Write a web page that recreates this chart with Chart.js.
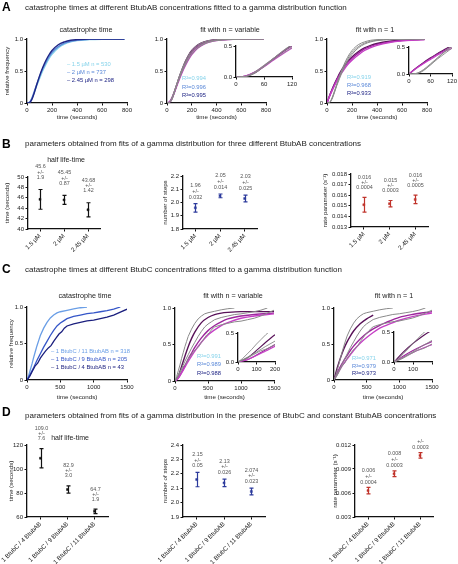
<!DOCTYPE html>
<html lang="en">
<head>
<meta charset="UTF-8" />
<title>Catastrophe times fitted to a gamma distribution</title>
<script src="https://cdn.jsdelivr.net/npm/chart.js"></script>
<style>
    body { margin: 0; width: 458px; height: 564px; overflow: hidden; background: #fff; position: relative;
           font-family: "Liberation Sans", Arial, sans-serif; color: #222; }
    canvas { position: absolute; }
    .t { position: absolute; white-space: nowrap; line-height: 1; will-change: transform; }
    .letter { font-weight: bold; font-size: 12px; color: #000; }
</style>
</head>
<body>
<script>
// ---------- panel A: BtubAB concentrations ----------
const concLabels = ['1.5 µM', '2 µM', '2.45 µM'];
const nA = [530, 737, 298];
const timeA = [0, 20, 40, 60, 80, 100, 125, 150, 175, 200, 250, 300, 350, 400, 500, 600, 700, 780];
const freqA15  = [0, 0.01, 0.07, 0.17, 0.28, 0.38, 0.50, 0.60, 0.69, 0.76, 0.86, 0.92, 0.955, 0.975, 0.99, 0.997, 1.0, 1.0];
const freqA2   = [0, 0.01, 0.08, 0.19, 0.30, 0.41, 0.53, 0.63, 0.72, 0.79, 0.88, 0.935, 0.965, 0.98, 0.995, 1.0, 1.0, 1.0];
const freqA245 = [0, 0.005, 0.06, 0.17, 0.30, 0.42, 0.55, 0.66, 0.75, 0.82, 0.91, 0.955, 0.98, 0.99, 1.0, 1.0, 1.0, 1.0];
const fitVarA15  = [0, 0.015, 0.075, 0.165, 0.27, 0.37, 0.49, 0.59, 0.68, 0.755, 0.86, 0.92, 0.955, 0.975, 0.992, 0.998, 1.0, 1.0];
const fitVarA2   = [0, 0.015, 0.08, 0.18, 0.29, 0.40, 0.52, 0.63, 0.72, 0.79, 0.885, 0.94, 0.97, 0.985, 0.996, 0.999, 1.0, 1.0];
const fitVarA245 = [0, 0.01, 0.065, 0.17, 0.29, 0.41, 0.54, 0.655, 0.75, 0.82, 0.91, 0.955, 0.978, 0.99, 0.998, 1.0, 1.0, 1.0];
const fitOneA15  = [0, 0.10, 0.19, 0.27, 0.35, 0.42, 0.49, 0.56, 0.62, 0.67, 0.75, 0.82, 0.865, 0.90, 0.945, 0.97, 0.982, 0.99];
const fitOneA2   = [0, 0.11, 0.20, 0.29, 0.37, 0.44, 0.52, 0.59, 0.65, 0.70, 0.78, 0.845, 0.885, 0.915, 0.955, 0.975, 0.987, 0.993];
const fitOneA245 = [0, 0.11, 0.21, 0.30, 0.38, 0.46, 0.54, 0.61, 0.67, 0.72, 0.80, 0.86, 0.90, 0.93, 0.965, 0.982, 0.99, 0.995];
const r2VarA = ['0.994', '0.996', '0.995'];
const r2OneA = ['0.919', '0.968', '0.933'];

// ---------- panel B: fit parameters vs BtubAB ----------
const halfLifeB = [45.7, 45.6, 43.7];
const halfLifeBErr = [1.9, 0.85, 1.35];
const halfLifeBText = ['45.6', '45.45', '43.68'];
const halfLifeBErrText = ['1.9', '0.87', '1.42'];
const stepsB = [1.96, 2.05, 2.03];
const stepsBErr = [0.032, 0.014, 0.025];
const stepsBText = ['1.96', '2.05', '2.03'];
const stepsBErrText = ['0.032', '0.014', '0.025'];
const rateB = [0.0151, 0.0152, 0.0156];
const rateBErr = [0.0007, 0.0003, 0.0004];
const rateBText = ['0.016', '0.015', '0.016'];
const rateBErrText = ['0.0004', '0.0003', '0.0005'];

// ---------- panel C: BtubC / BtubAB ratios ----------
const ratioLabels = ['1 BtubC / 4 BtubAB', '1 BtubC / 9 BtubAB', '1 BtubC / 11 BtubAB'];
const legendC = ['1 BtubC / 11 BtubAB n = 318', '1 BtubC / 9 BtubAB n = 205', '1 BtubC / 4 BtubAB n = 43'];
const timeC11 = [0, 25, 50, 75, 100, 125, 150, 175, 200, 250, 300, 350, 400, 450, 500, 600, 700, 800, 900];
const freqC11 = [0, 0.06, 0.14, 0.22, 0.31, 0.39, 0.47, 0.54, 0.61, 0.71, 0.79, 0.85, 0.89, 0.92, 0.935, 0.955, 0.975, 0.99, 1.0];
const timeC9 = [0, 50, 100, 150, 200, 250, 300, 350, 400, 450, 500, 550, 600, 700, 800, 900, 1000, 1100, 1200, 1300, 1400];
const freqC9 = [0, 0.08, 0.17, 0.27, 0.36, 0.45, 0.53, 0.61, 0.68, 0.74, 0.78, 0.81, 0.84, 0.87, 0.89, 0.91, 0.92, 0.935, 0.95, 0.97, 1.0];
const timeC4 = [0, 40, 80, 120, 160, 200, 240, 280, 320, 360, 400, 440, 480, 520, 560, 600, 700, 800, 900, 1000, 1100, 1200, 1300, 1400, 1500];
const freqC4 = [0, 0.05, 0.12, 0.19, 0.23, 0.30, 0.35, 0.40, 0.44, 0.47, 0.53, 0.58, 0.63, 0.66, 0.71, 0.74, 0.77, 0.79, 0.81, 0.82, 0.84, 0.86, 0.89, 0.93, 0.97];
const timeFitC = [0, 50, 100, 150, 200, 250, 300, 400, 500, 600, 700, 800, 1000, 1200, 1500];
const fitVarC11 = [0, 0.07, 0.20, 0.34, 0.47, 0.58, 0.67, 0.80, 0.87, 0.91, 0.93, 0.94, 0.95, 0.95, 0.95];
const fitVarC9  = [0, 0.04, 0.12, 0.21, 0.30, 0.38, 0.46, 0.59, 0.69, 0.76, 0.81, 0.85, 0.89, 0.91, 0.93];
const fitVarC4  = [0, 0.04, 0.11, 0.19, 0.27, 0.34, 0.41, 0.53, 0.63, 0.70, 0.76, 0.80, 0.86, 0.89, 0.92];
const fitOneC11 = [0, 0.17, 0.31, 0.43, 0.53, 0.61, 0.68, 0.78, 0.85, 0.90, 0.93, 0.95, 0.975, 0.99, 1.0];
const fitOneC9  = [0, 0.10, 0.19, 0.27, 0.34, 0.41, 0.47, 0.57, 0.65, 0.71, 0.76, 0.80, 0.87, 0.91, 0.95];
const fitOneC4  = [0, 0.08, 0.16, 0.23, 0.29, 0.35, 0.41, 0.51, 0.59, 0.66, 0.72, 0.76, 0.83, 0.88, 0.93];
const r2VarC = ['0.991', '0.989', '0.988'];
const r2OneC = ['0.971', '0.979', '0.973'];

// ---------- panel D: fit parameters vs BtubC ----------
const halfLifeD = [109.0, 82.9, 64.7];
const halfLifeDErr = [8.0, 3.0, 1.9];
const halfLifeDText = ['109.0', '82.9', '64.7'];
const halfLifeDErrText = ['7.6', '3.0', '1.9'];
const stepsD = [2.16, 2.137, 2.077];
const stepsDErr = [0.05, 0.026, 0.023];
const stepsDText = ['2.15', '2.13', '2.074'];
const stepsDErrText = ['0.05', '0.026', '0.023'];
const rateD = [0.0063, 0.0084, 0.0107];
const rateDErr = [0.0004, 0.00036, 0.00035];
const rateDText = ['0.006', '0.008', '0.011'];
const rateDErrText = ['0.0004', '0.0003', '0.0003'];

// colours
const cyan = '#86d3ea', blue = '#5a88d8', navy = '#1f2585';
const cBlue1 = '#6a9ee6', cBlue2 = '#3556c8', cBlue3 = '#1b1f7e';
const grey = '#8a8a8a';
const fitCols = ['#c63fc6', '#9c279c', '#581258'];

const FONT = '"Liberation Sans", Arial, sans-serif';
const TITLE_SIZE = 6.2;
Chart.defaults.font.family = FONT;
Chart.defaults.color = '#222';
Chart.defaults.animation = false;
Chart.defaults.plugins.legend.display = false;
Chart.defaults.plugins.tooltip.enabled = false;

// error bars + value labels above them
Chart.register({
    id: 'errorBars',
    afterDatasetsDraw(chart, args, o) {
        if (!o || !o.means) return;
        const ctx = chart.ctx, xs = chart.scales.x, ys = chart.scales.y;
        ctx.save();
        o.means.forEach((m, i) => {
            const x = Math.round(xs.getPixelForValue(i)) + 0.5;
            const yt = ys.getPixelForValue(m + o.errs[i]);
            const yb = ys.getPixelForValue(m - o.errs[i]);
            ctx.strokeStyle = o.color;
            ctx.lineWidth = 1.2;
            ctx.beginPath();
            ctx.moveTo(x, yt); ctx.lineTo(x, yb);
            ctx.moveTo(x - 2, yt); ctx.lineTo(x + 2, yt);
            ctx.moveTo(x - 2, yb); ctx.lineTo(x + 2, yb);
            ctx.stroke();
            ctx.fillStyle = '#555';
            ctx.font = '5.4px ' + FONT;
            ctx.textAlign = 'center';
            ctx.textBaseline = 'middle';
            const lines = [o.text[i], '+/-', o.errText[i]];
            lines.forEach((s, k) => ctx.fillText(s, x, yt - o.gap - (2 - k) * o.lineGap));
        });
        ctx.restore();
    }
});

function txt(s, x, y, size, color, center, extra) {
    const d = document.createElement('div');
    d.className = 't' + (extra ? ' ' + extra : '');
    d.textContent = s;
    d.style.left = x + 'px';
    d.style.top = y + 'px';
    d.style.fontSize = size + 'px';
    if (color) d.style.color = color;
    d.style.transform = center ? 'translate(-50%,-50%)' : 'translate(0,-50%)';
    document.body.appendChild(d);
}

// box = plot area in page px, m = space kept round it for axes, yTitleX = page x of the y title centre
function makeChart(box, m, config, yTitleX) {
    const c = document.createElement('canvas');
    const left = Math.round(box.l - m.l), top = Math.round(box.t - m.t);
    const w = Math.round(box.r + m.r) - left, h = Math.round(box.b + m.b) - top;
    c.width = w; c.height = h;
    c.style.left = left + 'px'; c.style.top = top + 'px';
    document.body.appendChild(c);
    const o = config.options;
    o.responsive = false;
    o.layout = { autoPadding: false, padding: { left: 0, top: m.t, right: m.r, bottom: 0 } };
    o.scales.x.afterFit = s => { s.height = m.b; s.paddingLeft = 0; s.paddingRight = 0; };
    o.scales.y.afterFit = s => { s.width = m.l; s.paddingTop = 0; s.paddingBottom = 0; };
    if (yTitleX != null) {
        o.scales.y.title.padding = { top: yTitleX - left - TITLE_SIZE * 0.6, bottom: 0 };
    }
    return new Chart(c, config);
}

function linScale(min, max, step, fmt, title) {
    return {
        type: 'linear', min: min, max: max,
        ticks: { stepSize: step, autoSkip: false, maxRotation: 0, padding: 1.5, font: { size: 6 }, color: '#222', callback: fmt },
        grid: { drawOnChartArea: false, tickLength: 2.5, tickColor: '#111', tickWidth: 1 },
        border: { color: '#111', width: 1.3 },
        title: { display: !!title, text: title || '', font: { size: TITLE_SIZE }, color: '#222', padding: 0 }
    };
}

function catScale(labels) {
    return {
        type: 'category', labels: labels, offset: true,
        ticks: { autoSkip: false, minRotation: 45, maxRotation: 45, padding: 1, font: { size: 6.2 }, color: '#222' },
        grid: { offset: false, drawOnChartArea: false, tickLength: 2.5, tickColor: '#111' },
        border: { color: '#111', width: 1.3 }
    };
}

function curve(ts, fs, color, width, straight) {
    return {
        data: ts.map((t, i) => ({ x: t, y: fs[i] })),
        borderColor: color, borderWidth: width || 1.2, pointRadius: 0, fill: false,
        tension: 0, cubicInterpolationMode: straight ? 'default' : 'monotone'
    };
}

const fracFmt = v => (v === 0 ? '0' : v.toFixed(1));
const fracFmt0 = v => v.toFixed(1);
const intFmt = v => String(v);

function curveChart(box, m, datasets, xMax, xStep, yTitle, xTitle, yFmt, yStep, yMax, xFmt, yTitleX) {
    return makeChart(box, m, {
        type: 'line',
        data: { datasets: datasets },
        options: {
            scales: {
                x: linScale(0, xMax, xStep, xFmt || intFmt, xTitle),
                y: linScale(0, yMax || 1, yStep || 0.5, yFmt || fracFmt, yTitle)
            }
        }
    }, yTitleX);
}

function errChart(box, m, labels, means, errs, color, yMin, yMax, step, fmt, yTitle, yTitleX, text, errText, gap, lineGap) {
    return makeChart(box, m, {
        type: 'line',
        data: {
            labels: labels,
            datasets: [{ data: means, showLine: false, pointStyle: 'rect', pointRadius: 1.4,
                         backgroundColor: color, borderColor: color, borderWidth: 0.5 }]
        },
        options: {
            scales: { x: catScale(labels), y: linScale(yMin, yMax, step, fmt, yTitle) },
            plugins: { errorBars: { means: means, errs: errs, color: color, text: text, errText: errText, gap: gap, lineGap: lineGap } }
        }
    }, yTitleX);
}

// ================= A =================
txt('A', 2, 7, 12, '#000', false, 'letter');
txt('catastrophe times at different BtubAB concentrations fitted to a gamma distribution function', 25, 8, 8);
txt('catastrophe time', 86, 30, 7.2, null, true);
txt('fit with n = variable', 230, 30, 7.2, null, true);
txt('fit with n = 1', 375, 30, 7.2, null, true);

curveChart({ l: 27, t: 39, r: 127, b: 103 }, { l: 24, t: 6, r: 10, b: 18 }, [
    curve(timeA, freqA245, navy, 1.4),
    curve(timeA, freqA2, blue, 1.4),
    curve(timeA, freqA15, cyan, 1.4)
], 800, 200, 'relative frequency', 'time (seconds)', null, null, null, null, 7);

curveChart({ l: 167, t: 39, r: 266, b: 103 }, { l: 17, t: 6, r: 10, b: 18 }, [
    curve(timeA, freqA15, grey, 1), curve(timeA, freqA2, grey, 1), curve(timeA, freqA245, grey, 1),
    curve(timeA, fitVarA15, fitCols[0], 1.4), curve(timeA, fitVarA2, fitCols[1], 1.4), curve(timeA, fitVarA245, fitCols[2], 1.4)
], 800, 200, null, 'time (seconds)');
curveChart({ l: 236, t: 46, r: 292, b: 77 }, { l: 12, t: 4, r: 6, b: 10 }, [
    curve(timeA, freqA15, grey, 0.9), curve(timeA, freqA2, grey, 0.9), curve(timeA, freqA245, grey, 0.9),
    curve(timeA, fitVarA15, fitCols[0], 1.1), curve(timeA, fitVarA2, fitCols[1], 1.1), curve(timeA, fitVarA245, fitCols[2], 1.1)
], 120, 60, null, null, fracFmt0, 0.5, 0.5);

curveChart({ l: 327, t: 39, r: 427, b: 103 }, { l: 17, t: 6, r: 10, b: 18 }, [
    curve(timeA, freqA15, grey, 1), curve(timeA, freqA2, grey, 1), curve(timeA, freqA245, grey, 1),
    curve(timeA, fitOneA15, fitCols[0], 1.4), curve(timeA, fitOneA2, fitCols[1], 1.4), curve(timeA, fitOneA245, fitCols[2], 1.4)
], 800, 200, null, 'time (seconds)');
curveChart({ l: 409, t: 47, r: 452, b: 74 }, { l: 12, t: 4, r: 5, b: 10 }, [
    curve(timeA, freqA15, grey, 0.9), curve(timeA, freqA2, grey, 0.9), curve(timeA, freqA245, grey, 0.9),
    curve(timeA, fitOneA15, fitCols[0], 1.1), curve(timeA, fitOneA2, fitCols[1], 1.1), curve(timeA, fitOneA245, fitCols[2], 1.1)
], 120, 60, null, null, fracFmt0, 0.5, 0.5);

[cyan, blue, navy].forEach((col, i) => {
    txt('– ' + concLabels[i] + ' n = ' + nA[i], 67, [65, 73, 81][i], 5.8, col);
    txt('R²=' + r2VarA[i], 182, [79, 87.5, 96][i], 5.8, col);
    txt('R²=' + r2OneA[i], 347, [78, 86, 94.3][i], 5.8, col);
});

// ================= B =================
txt('B', 2, 144, 12, '#000', false, 'letter');
txt('parameters obtained from fits of a gamma distribution for three different BtubAB concentrations', 25, 144, 8);
txt('half life-time', 66, 159, 7, null, true);

errChart({ l: 28, t: 177, r: 100, b: 229 }, { l: 28, t: 20, r: 6, b: 34 }, concLabels, halfLifeB, halfLifeBErr, '#111',
    40, 50, 2, intFmt, 'time (seconds)', 7, halfLifeBText, halfLifeBErrText, 12, 5.3);
errChart({ l: 183, t: 176, r: 257, b: 229 }, { l: 23, t: 6, r: 6, b: 34 }, concLabels, stepsB, stepsBErr, '#2c3a9c',
    1.8, 2.2, 0.1, v => v.toFixed(1), 'number of steps', 165, stepsBText, stepsBErrText, 6.5, 6);
errChart({ l: 351, t: 174, r: 428, b: 227 }, { l: 31, t: 6, r: 6, b: 34 }, concLabels, rateB, rateBErr, '#c0332b',
    0.013, 0.018, 0.001, v => v.toFixed(3), 'rate parameter (s⁻¹)', 325, rateBText, rateBErrText, 10, 4.8);

// ================= C =================
txt('C', 2, 269, 12, '#000', false, 'letter');
txt('catastrophe times at different BtubC concentrations fitted to a gamma distribution function', 25, 270, 8);
txt('catastrophe time', 85, 296, 7.2, null, true);
txt('fit with n = variable', 233, 296, 7.2, null, true);
txt('fit with n = 1', 394, 296, 7.2, null, true);

curveChart({ l: 27, t: 307, r: 127, b: 380 }, { l: 19, t: 6, r: 10, b: 21 }, [
    curve(timeC4, freqC4, cBlue3, 1.3, true),
    curve(timeC9, freqC9, cBlue2, 1.3, true),
    curve(timeC11, freqC11, cBlue1, 1.3, true)
], 1500, 500, 'relative frequency', 'time (seconds)', null, null, null, null, 11.5);

curveChart({ l: 175, t: 308, r: 274, b: 381 }, { l: 17, t: 6, r: 10, b: 20 }, [
    curve(timeC4, freqC4, grey, 1, true), curve(timeC9, freqC9, grey, 1, true), curve(timeC11, freqC11, grey, 1, true),
    curve(timeFitC, fitVarC4, fitCols[0], 1.4), curve(timeFitC, fitVarC9, fitCols[1], 1.4), curve(timeFitC, fitVarC11, fitCols[2], 1.4)
], 1500, 500, null, 'time (seconds)');
curveChart({ l: 238, t: 333, r: 275, b: 362 }, { l: 12, t: 4, r: 7, b: 10 }, [
    curve(timeC4, freqC4, grey, 0.9, true), curve(timeC9, freqC9, grey, 0.9, true), curve(timeC11, freqC11, grey, 0.9, true),
    curve(timeFitC, fitVarC4, fitCols[0], 1.1), curve(timeFitC, fitVarC9, fitCols[1], 1.1), curve(timeFitC, fitVarC11, fitCols[2], 1.1)
], 200, 100, null, null, fracFmt0, 0.5, 0.5);

curveChart({ l: 334, t: 308, r: 432, b: 380 }, { l: 17, t: 6, r: 10, b: 21 }, [
    curve(timeC4, freqC4, grey, 1, true), curve(timeC9, freqC9, grey, 1, true), curve(timeC11, freqC11, grey, 1, true),
    curve(timeFitC, fitOneC4, fitCols[0], 1.4), curve(timeFitC, fitOneC9, fitCols[1], 1.4),
    curve(timeFitC.slice(0, 10), fitOneC11, fitCols[2], 1.4)
], 1500, 500, null, 'time (seconds)');
curveChart({ l: 394, t: 332, r: 432, b: 362 }, { l: 12, t: 4, r: 6, b: 10 }, [
    curve(timeC4, freqC4, grey, 0.9, true), curve(timeC9, freqC9, grey, 0.9, true), curve(timeC11, freqC11, grey, 0.9, true),
    curve(timeFitC, fitOneC4, fitCols[0], 1.1), curve(timeFitC, fitOneC9, fitCols[1], 1.1), curve(timeFitC, fitOneC11, fitCols[2], 1.1)
], 200, 100, null, null, fracFmt0, 0.5, 0.5, v => (v === 200 ? '' : String(v)));

[cBlue1, cBlue2, cBlue3].forEach((col, i) => {
    txt('– ' + legendC[i], 51, [352, 360, 368][i], 5.8, col);
});
[cyan, blue, navy].forEach((col, i) => {
    txt('R²=' + r2VarC[i], 197, [357.3, 365.3, 374][i], 5.8, col);
    txt('R²=' + r2OneC[i], 352, [359, 367, 374.3][i], 5.8, col);
});

// ================= D =================
txt('D', 2, 412, 12, '#000', false, 'letter');
txt('parameters obtained from fits of a gamma distribution in the presence of BtubC and constant BtubAB concentrations', 25, 416, 8);
txt('half life-time', 70, 437, 7, null, true);

errChart({ l: 27, t: 445, r: 108, b: 517 }, { l: 27, t: 20, r: 6, b: 47 }, ratioLabels, halfLifeD, halfLifeDErr, '#111',
    60, 120, 20, intFmt, 'time (seconds)', 11.5, halfLifeDText, halfLifeDErrText, 10, 5);
errChart({ l: 183, t: 445, r: 265, b: 517 }, { l: 33, t: 6, r: 6, b: 47 }, ratioLabels, stepsD, stepsDErr, '#2c3a9c',
    1.9, 2.4, 0.1, v => v.toFixed(1), 'number of steps', 165, stepsDText, stepsDErrText, 6.5, 5.7);
errChart({ l: 355, t: 445, r: 433, b: 517 }, { l: 37, t: 6, r: 6, b: 47 }, ratioLabels, rateD, rateDErr, '#c0332b',
    0.003, 0.012, 0.003, v => v.toFixed(3), 'rate parameter (s⁻¹)', 335, rateDText, rateDErrText, 5, 6);
</script>
</body>
</html>
